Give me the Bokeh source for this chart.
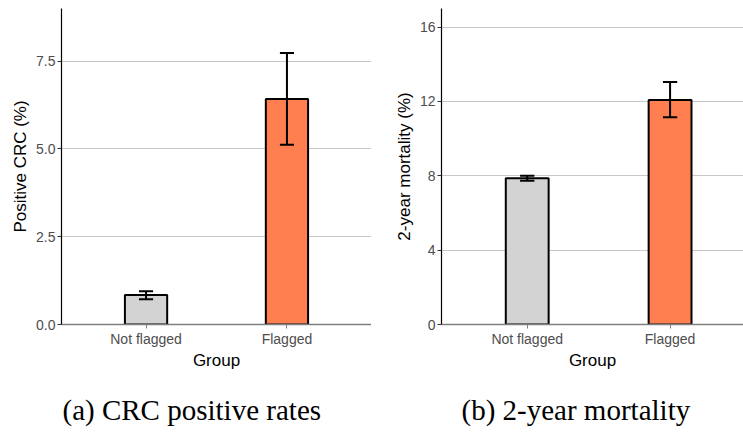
from bokeh.plotting import figure
from bokeh.layouts import row
from bokeh.models import FixedTicker, Title, Range1d, ColumnDataSource
from bokeh.embed import file_html
from bokeh.resources import INLINE

groups = ["Not flagged", "Flagged"]
bar_colors = ["#D3D3D3", "#FF7F50"]

crc_rate = [0.84, 6.42]
crc_lower = [0.72, 5.12]
crc_upper = [0.95, 7.73]
crc_ticks = [0, 2.5, 5.0, 7.5]
crc_tick_labels = ["0.0", "2.5", "5.0", "7.5"]

mort_rate = [7.87, 12.08]
mort_lower = [7.74, 11.15]
mort_upper = [8.00, 13.04]
mort_ticks = [0, 4, 8, 12, 16]
mort_tick_labels = ["0", "4", "8", "12", "16"]

SANS = "Liberation Sans"
SERIF = "Liberation Serif"


def panel(rate, lo, hi, ylabel, yticks, ylabels, ymax, xmax, caption,
          cap_offset, frame_w, border_left):
    xs = [i + 1 for i in range(len(groups))]
    cap = 0.05
    src = ColumnDataSource(dict(
        x=xs, top=rate, lo=lo, hi=hi, color=bar_colors,
        cl=[x - cap for x in xs], cr=[x + cap for x in xs]))
    p = figure(frame_width=frame_w, frame_height=316,
               x_range=Range1d(0.4, xmax), y_range=Range1d(0, ymax),
               output_backend="svg", toolbar_location=None,
               min_border_left=border_left, min_border_right=0,
               min_border_top=8, min_border_bottom=0)
    p.vbar(x="x", top="top", width=0.3, fill_color="color",
           line_color="black", line_width=2, source=src)
    p.segment(x0="x", y0="lo", x1="x", y1="hi", line_color="black",
              line_width=2, source=src)
    p.segment(x0="cl", y0="lo", x1="cr", y1="lo", line_color="black",
              line_width=2, source=src)
    p.segment(x0="cl", y0="hi", x1="cr", y1="hi", line_color="black",
              line_width=2, source=src)

    p.outline_line_color = None
    p.background_fill_color = "white"
    p.border_fill_color = "white"
    p.xgrid.visible = False
    p.ygrid.grid_line_color = "#C8C8C8"
    p.ygrid.grid_line_width = 1

    xa = p.xaxis[0]
    xa.ticker = FixedTicker(ticks=xs)
    xa.major_label_overrides = {x: g for x, g in zip(xs, groups)}
    xa.axis_label = "Group"
    xa.axis_line_color = "#7F7F7F"
    xa.axis_line_width = 1.5
    xa.major_tick_line_color = "#7F7F7F"
    xa.major_tick_out = 4
    xa.major_tick_in = 0
    xa.minor_tick_line_color = None
    xa.major_label_standoff = 2
    xa.axis_label_standoff = 1

    ya = p.yaxis[0]
    ya.ticker = FixedTicker(ticks=yticks)
    ya.major_label_overrides = {t: l for t, l in zip(yticks, ylabels)}
    ya.axis_label = ylabel
    ya.axis_line_color = "black"
    ya.axis_line_width = 1.2
    ya.major_tick_line_color = "#333333"
    ya.major_tick_out = 4
    ya.major_tick_in = 0
    ya.minor_tick_line_color = None
    ya.major_label_standoff = 2
    ya.axis_label_standoff = 3

    for ax in (xa, ya):
        ax.major_label_text_font = SANS
        ax.major_label_text_font_size = "14px"
        ax.major_label_text_color = "#4D4D4D"
        ax.axis_label_text_font = SANS
        ax.axis_label_text_font_size = "17px"
        ax.axis_label_text_font_style = "normal"
        ax.axis_label_text_color = "black"

    t = Title(text=caption, align="left", offset=cap_offset,
              text_font=SERIF, text_font_size="29px",
              text_font_style="normal", text_color="black", standoff=38)
    p.add_layout(t, "below")
    return p


p1 = panel(crc_rate, crc_lower, crc_upper, "Positive CRC (%)", crc_ticks,
           crc_tick_labels, 9.0, 2.6, "(a) CRC positive rates", 1, 310, 61)
p2 = panel(mort_rate, mort_lower, mort_upper, "2-year mortality (%)",
           mort_ticks, mort_tick_labels, 17.0, 2.514, "(b) 2-year mortality",
           20, 302, 70)

layout = row(p1, p2, spacing=0)
open("out.html", "w").write(file_html(layout, INLINE))
